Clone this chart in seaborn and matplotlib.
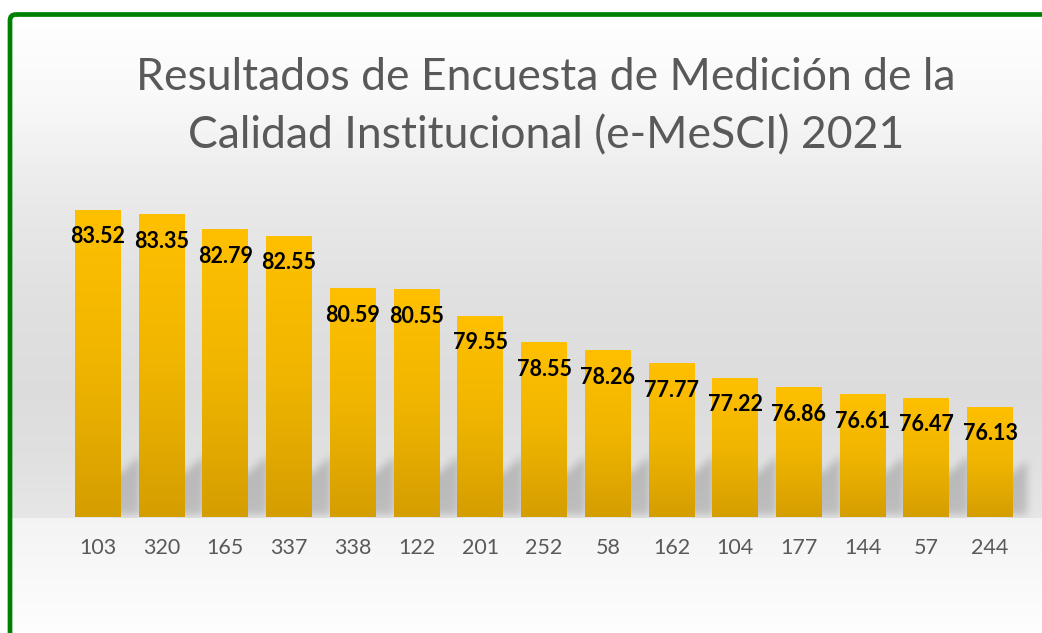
import numpy as np
import pandas as pd
import matplotlib
matplotlib.use("Agg")
import matplotlib.pyplot as plt
import seaborn as sns
from matplotlib.colors import LinearSegmentedColormap
from matplotlib.patches import FancyBboxPatch

# Puntaje e-MeSCI 2021 por dependencia
categorias = ["103", "320", "165", "337", "338", "122", "201", "252",
              "58", "162", "104", "177", "144", "57", "244"]
puntajes = [83.52, 83.35, 82.79, 82.55, 80.59, 80.55, 79.55, 78.55,
            78.26, 77.77, 77.22, 76.86, 76.61, 76.47, 76.13]
titulo_1 = "Resultados de Encuesta de Medición de la"
titulo_2 = "Calidad Institucional (e-MeSCI) 2021"

W, H, DPI = 1042, 633, 100
Y_MIN, Y_MAX = 72, 84

sns.set_theme(style="white")
plt.rcParams["font.family"] = ["Lato", "DejaVu Sans"]

fig = plt.figure(figsize=(W / DPI, H / DPI), dpi=DPI)
fig.patch.set_facecolor("white")

# background layer (gradient, floor, shadows, frame)
bg_ax = fig.add_axes([0, 0, 1, 1], zorder=0)
bg_ax.set_axis_off()

ax = fig.add_axes([66 / W, 116 / H, 956 / W, 320 / H], zorder=1)
ax.patch.set_alpha(0)

df = pd.DataFrame({"Dependencia": categorias, "Puntaje": puntajes})
sns.barplot(data=df, x="Dependencia", y="Puntaje", order=categorias,
            width=0.72, color="#FFC000", saturation=1, linewidth=0,
            edgecolor="none", ax=ax, zorder=3)
ax.set_ylim(Y_MIN, Y_MAX)
ax.set_xlim(-0.5, len(categorias) - 0.5)

# vertical golden gradient inside each bar
cmap_oro = LinearSegmentedColormap.from_list("oro", ["#D59E00", "#F0B500", "#FFC000"])
grad = np.linspace(0, 1, 256).reshape(-1, 1)
bars = list(ax.patches)
for p in bars:
    p.set_linewidth(0)
    x0, w = p.get_x(), p.get_width()
    top = p.get_y() + p.get_height()
    im = ax.imshow(grad, extent=[x0, x0 + w, Y_MIN, top], origin="lower",
                   cmap=cmap_oro, aspect="auto", zorder=3.5, interpolation="bilinear")
    im.set_clip_path(p)
ax.set_ylim(Y_MIN, Y_MAX)
ax.set_xlim(-0.5, len(categorias) - 0.5)

# value labels just inside the top of each bar
for i, v in enumerate(puntajes):
    ax.annotate(f"{v:.2f}", xy=(i, v), xytext=(0, -19.5), textcoords="offset points",
                ha="center", va="center", fontsize=15.5, fontweight="bold",
                color="black", zorder=6)

sns.despine(ax=ax, left=True, bottom=True)
ax.set_yticks([])
ax.set_xlabel("")
ax.set_ylabel("")
ax.tick_params(axis="x", length=0, pad=15, labelsize=15.5, labelcolor="#595959")

# ---- background image in pixel space ----
base_disp = ax.transData.transform((0, Y_MIN))[1]
base_row = int(round(H - base_disp))
rows = np.arange(H)
prof = np.interp(rows, [0, 15, 100, 200, 300, 390, 460, base_row],
                 [1.0, 1.0, 0.975, 0.915, 0.88, 0.865, 0.88, 0.905])
floor = np.interp(rows, [base_row, H], [0.955, 0.995])
prof = np.where(rows > base_row, floor, prof)
img = np.repeat(prof[:, None], W, axis=1)

# soft slanted shadows cast to the right of each bar
shadow = np.zeros((H, W))
lefts = [ax.transData.transform((p.get_x(), Y_MIN))[0] for p in bars]
rights = [ax.transData.transform((p.get_x() + p.get_width(), Y_MIN))[0] for p in bars]
for k, R in enumerate(rights):
    reach = (lefts[k + 1] - R) if k + 1 < len(bars) else 12
    for c in range(int(R) - 8, int(np.ceil(R + reach)) + 1):
        if 0 <= c < W:
            h_top = 44 + 0.9 * max(c - R, 0)
            shadow[int(base_row - h_top):base_row - 2, c] = 1.0


def blur(a, s):
    k = np.arange(-3 * s, 3 * s + 1)
    g = np.exp(-k ** 2 / (2 * s * s))
    g /= g.sum()
    a = np.apply_along_axis(lambda m: np.convolve(m, g, mode="same"), 0, a)
    a = np.apply_along_axis(lambda m: np.convolve(m, g, mode="same"), 1, a)
    return a


shadow = blur(shadow, 4)
shadow[base_row + 1:, :] = 0
img = img - 0.16 * shadow
rgb = np.dstack([img, img, img]).clip(0, 1)
bg_ax.imshow(rgb, extent=[0, W, H, 0], aspect="auto", interpolation="bilinear")
bg_ax.set_xlim(0, W)
bg_ax.set_ylim(H, 0)

# white margin outside the frame, then the green frame
bg_ax.fill_between([0, W], 0, 13, color="white", zorder=2)
bg_ax.fill_between([0, 9], 0, H, color="white", zorder=2)
frame = FancyBboxPatch((10, 14.5), W + 60, H + 60,
                       boxstyle="round,pad=0,rounding_size=6",
                       linewidth=3.4, edgecolor="#008000", facecolor="none", zorder=3)
bg_ax.add_patch(frame)

fig.text(546 / W, 1 - 90 / H, titulo_1, ha="center", va="baseline",
         fontsize=32, color="#595959")
fig.text(546 / W, 1 - 148 / H, titulo_2, ha="center", va="baseline",
         fontsize=32, color="#595959")

fig.savefig("out.png", dpi=DPI)
